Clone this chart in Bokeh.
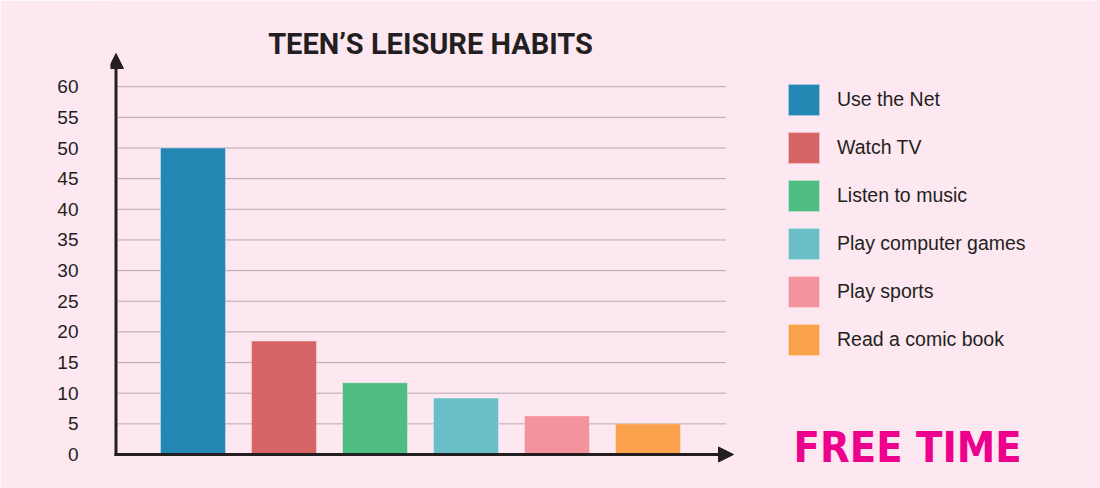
from bokeh.plotting import figure
from bokeh.models import (Range1d, FixedTicker, Arrow, NormalHead, Label,
                          Legend, LegendItem, ColumnDataSource)
from bokeh.embed import file_html
from bokeh.resources import INLINE

# ---- data ----
categories = ["Use the Net", "Watch TV", "Listen to music",
              "Play computer games", "Play sports", "Read a comic book"]
values = [50, 18.5, 11.7, 9.2, 6.3, 5]
colors = ["#2487B4", "#D76565", "#50BD82", "#6ABEC7", "#F4929D", "#F9A14B"]
y_ticks = [0, 5, 10, 15, 20, 25, 30, 35, 40, 45, 50, 55, 60]
title_text = "TEEN\u2019S LEISURE HABITS"
tag_text = "FREE TIME"

BG = "#FDE7F0"
INK = "#231F20"

# ---- layout (pixels) ----
W, H = 1100, 488
LEFT = 110                      # frame left edge
PX_X = 91.0                     # px per category step
PX_Y = 6.13                     # px per unit
ZERO_Y = 454                    # pixel row of value 0
FIRST_BAR = 192.5               # pixel column of first bar centre


def xd(px):
    return 1 + (px - FIRST_BAR) / PX_X


def yd(py):
    return (ZERO_Y - py) / PX_Y


p = figure(width=W, height=H, output_backend="svg", toolbar_location=None,
           x_range=Range1d(xd(LEFT), xd(W)), y_range=Range1d(yd(H), yd(0)),
           x_axis_location=None,
           min_border_left=LEFT, min_border_right=0,
           min_border_top=0, min_border_bottom=0)
p.background_fill_color = BG
p.border_fill_color = BG
p.outline_line_color = None

# grid lines (dotted), limited to the plotting area
p.xgrid.grid_line_color = None
p.ygrid.grid_line_color = None
p.segment(x0=[xd(118)] * len(y_ticks), x1=[xd(725)] * len(y_ticks),
          y0=y_ticks, y1=y_ticks, line_color="#6e6e6e", line_width=1,
          line_dash="1 1", line_alpha=1.0)

src = ColumnDataSource(dict(x=[i + 1 for i in range(len(categories))],
                            top=values, cat=categories, color=colors))
r = p.vbar(x="x", top="top", width=65 / PX_X, bottom=0, source=src,
           fill_color="color", line_color="white", line_alpha=0.35,
           line_width=1)

# y axis labels
p.yaxis.ticker = FixedTicker(ticks=y_ticks)
p.yaxis.axis_line_color = None
p.yaxis.major_tick_line_color = None
p.yaxis.minor_tick_line_color = None
p.yaxis.major_label_standoff = 26
p.yaxis.major_label_text_font = "Liberation Sans"
p.yaxis.major_label_text_font_size = "19px"
p.yaxis.major_label_text_color = INK

# arrows for axes
AX = xd(115.5)
p.add_layout(Arrow(end=NormalHead(size=15, fill_color=INK, line_color=INK),
                   x_start=AX, y_start=yd(455.5), x_end=AX, y_end=yd(53),
                   line_width=3, line_color=INK))
p.add_layout(Arrow(end=NormalHead(size=15, fill_color=INK, line_color=INK),
                   x_start=xd(114), y_start=0, x_end=xd(733), y_end=0,
                   line_width=3, line_color=INK))

# legend
legend = Legend(items=[LegendItem(label=c, renderers=[r], index=i)
                       for i, c in enumerate(categories)],
                location=(674, 129), orientation="vertical",
                glyph_width=39, glyph_height=39, spacing=9,
                label_standoff=14, padding=0, margin=0,
                border_line_color=None, background_fill_alpha=0,
                label_text_font="Liberation Sans",
                label_text_font_size="19.5px", label_text_color=INK)
p.add_layout(legend, "center")

# title and tag
p.add_layout(Label(x=430 - LEFT, y=H - 43, x_units="screen",
                   y_units="screen", text=title_text, text_align="center",
                   text_baseline="alphabetic", text_font="Roboto",
                   text_font_style="bold", text_font_size="29px",
                   text_color=INK))
p.add_layout(Label(x=793 - LEFT, y=H - 446, x_units="screen",
                   y_units="screen", text=tag_text, text_align="left",
                   text_baseline="alphabetic",
                   text_font="DejaVu Sans Condensed",
                   text_font_style="bold", text_font_size="43px",
                   text_color="#EC008C"))

open("out.html", "w").write(file_html(p, INLINE))
